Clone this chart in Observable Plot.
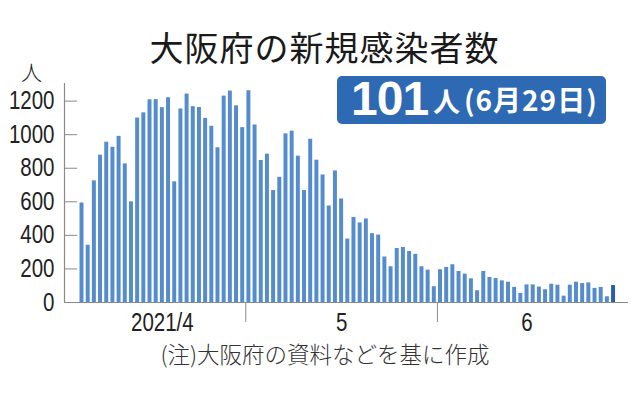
<!DOCTYPE html>
<html>
<head>
<meta charset="utf-8">
<script src="https://cdn.jsdelivr.net/npm/d3@7"></script>
<script src="https://cdn.jsdelivr.net/npm/@observablehq/plot@0.6"></script>
<style>
  html, body { margin: 0; padding: 0; background: #fff; }
  #wrap { position: relative; width: 638px; height: 396px; overflow: hidden; background: #fff; }
  #chart { position: absolute; left: 0; top: 0; }
  #title { position: absolute; left: 0; width: 649px; top: 24px; text-align: center;
           font-family: "Noto Sans CJK JP", sans-serif; font-weight: 400; font-size: 34px; line-height: 46px;
           letter-spacing: 1px; color: #1a1a1a; white-space: nowrap; }
  #unit { position: absolute; left: 21px; top: 58px; font-family: "Noto Sans CJK JP", sans-serif; font-weight: 300;
          font-size: 21px; line-height: 26px; color: #222; }
  #box { position: absolute; left: 337px; top: 76px; width: 269px; height: 48px; background: #2e69b3;
         border-radius: 5px; color: #fff; font-family: "Noto Sans CJK JP", sans-serif; font-weight: 700; white-space: nowrap; }
  #box .num { position: absolute; left: 14px; top: -9px; font-family: "Liberation Sans", Arial, sans-serif; font-weight: 700; font-size: 48px; line-height: 64px; letter-spacing: -1px; }
  #box .unit { position: absolute; left: 96px; top: 5px; font-size: 27px; line-height: 40px; }
  #box .date { position: absolute; left: 127px; top: 3px; font-size: 28px; line-height: 40px; letter-spacing: 1px; }
  #caption { position: absolute; left: 0; width: 650px; top: 338px; text-align: center;
             font-family: "Noto Sans CJK JP", sans-serif; font-weight: 300; font-size: 22.5px; line-height: 30px; color: #333; white-space: nowrap; }
</style>
</head>
<body>
<div id="wrap">
  <div id="chart"></div>
  <div id="title"></div>
  <div id="unit"></div>
  <div id="box"><span class="num"></span><span class="unit"></span><span class="date"></span></div>
  <div id="caption"></div>
</div>
<script>
// ---- data ----
const titleText = "大阪府の新規感染者数";
const unitText = "人";
const latestValue = "101";
const latestUnit = "人";
const latestDate = "(6月29日)";
const captionText = "(注)大阪府の資料などを基に作成";

const firstDate = "2021-04-04";
// daily new cases, 2021-04-04 .. 2021-06-29
const values = [
  593, 341, 725, 878, 955, 925, 990, 826, 600, 1099,
  1130, 1208, 1209, 1161, 1220, 719, 1153, 1242, 1167, 1162,
  1097, 1050, 922, 1230, 1260, 1172, 1042, 1262, 1058, 846,
  884, 667, 746, 1005, 1021, 872, 667, 973, 848, 760,
  575, 784, 617, 378, 507, 474, 498, 410, 402, 271,
  213, 322, 328, 304, 287, 213, 193, 94, 195, 209,
  225, 185, 169, 141, 70, 185, 149, 143, 129, 121,
  90, 54, 105, 105, 92, 76, 109, 103, 38, 103,
  121, 113, 117, 84, 90, 34, 101
];
const yTicks = [0, 200, 400, 600, 800, 1000, 1200];
const monthTicks = ["2021-05-01", "2021-06-01"];
const monthLabels = ["2021/4", "5", "6"];
const monthLabelDates = ["2021-04-17T12:00Z", "2021-05-16T12:00Z", "2021-06-15T12:00Z"];
const xDomain = ["2021-04-01T16:00Z", "2021-07-01T22:00Z"];
const yDomain = [0, 1305];

// ---- build ----
const start = new Date(firstDate + "T00:00Z");
const data = values.map((v, i) => {
  const d = d3.utcDay.offset(start, i);
  return { date: d, end: d3.utcDay.offset(d, 1), value: v, last: i === values.length - 1 };
});
const xd = xDomain.map(s => new Date(s));
const labelDates = monthLabelDates.map(s => new Date(s));
const labelMap = new Map(labelDates.map((d, i) => [+d, monthLabels[i]]));
const tickDates = monthTicks.map(s => new Date(s + "T00:00Z"));
const axisColor = "#8a8a8a";

const chart = Plot.plot({
  width: 638,
  height: 396,
  marginLeft: 64,
  marginRight: 10,
  marginTop: 83,
  marginBottom: 94,
  x: { type: "utc", domain: xd, label: null },
  y: { domain: yDomain, label: null },
  style: { fontFamily: '"Liberation Sans", Arial, sans-serif', fontSize: "25px", color: "#222", background: "transparent", overflow: "visible" },
  marks: [
    Plot.rectY(data, { x1: "date", x2: "end", y: "value", fill: d => d.last ? "#2a5ea8" : "#558ccd", insetLeft: 1.1, insetRight: 1.1 }),
    Plot.ruleY(yTicks.filter(v => v > 0), { x1: xd[0], x2: d3.utcHour.offset(xd[0], 51), stroke: axisColor, strokeWidth: 1 }),
    Plot.ruleX([xd[0]], { stroke: axisColor, strokeWidth: 1.2 }),
    Plot.ruleY([0], { stroke: axisColor, strokeWidth: 1.2 }),
    Plot.axisY({ ticks: yTicks, tickSize: 0, tickPadding: 10, tickFormat: d => String(d), fill: "#222", label: null }),
    Plot.axisX({ ticks: tickDates, tickSize: 20, tickFormat: () => "", stroke: axisColor, label: null }),
    Plot.axisX({ ticks: labelDates, tickSize: 0, tickPadding: 11, tickFormat: d => labelMap.get(+d) ?? "", fill: "#222", label: null })
  ]
});
// condense the numeric tick labels to a narrow (Arial Narrow–like) width
const charW = ch => (ch === "/" ? 5.7 : 11.4);
chart.querySelectorAll("text").forEach(t => {
  const s = t.textContent;
  if (!s || !/^[0-9\/]+$/.test(s)) return;
  const w = Array.from(s).reduce((a, c) => a + charW(c), 0);
  t.setAttribute("textLength", w);
  t.setAttribute("lengthAdjust", "spacingAndGlyphs");
});
document.getElementById("chart").appendChild(chart);
document.getElementById("title").textContent = titleText;
document.getElementById("unit").textContent = unitText;
document.querySelector("#box .num").textContent = latestValue;
document.querySelector("#box .unit").textContent = latestUnit;
document.querySelector("#box .date").textContent = latestDate;
document.getElementById("caption").textContent = captionText;
</script>
</body>
</html>
